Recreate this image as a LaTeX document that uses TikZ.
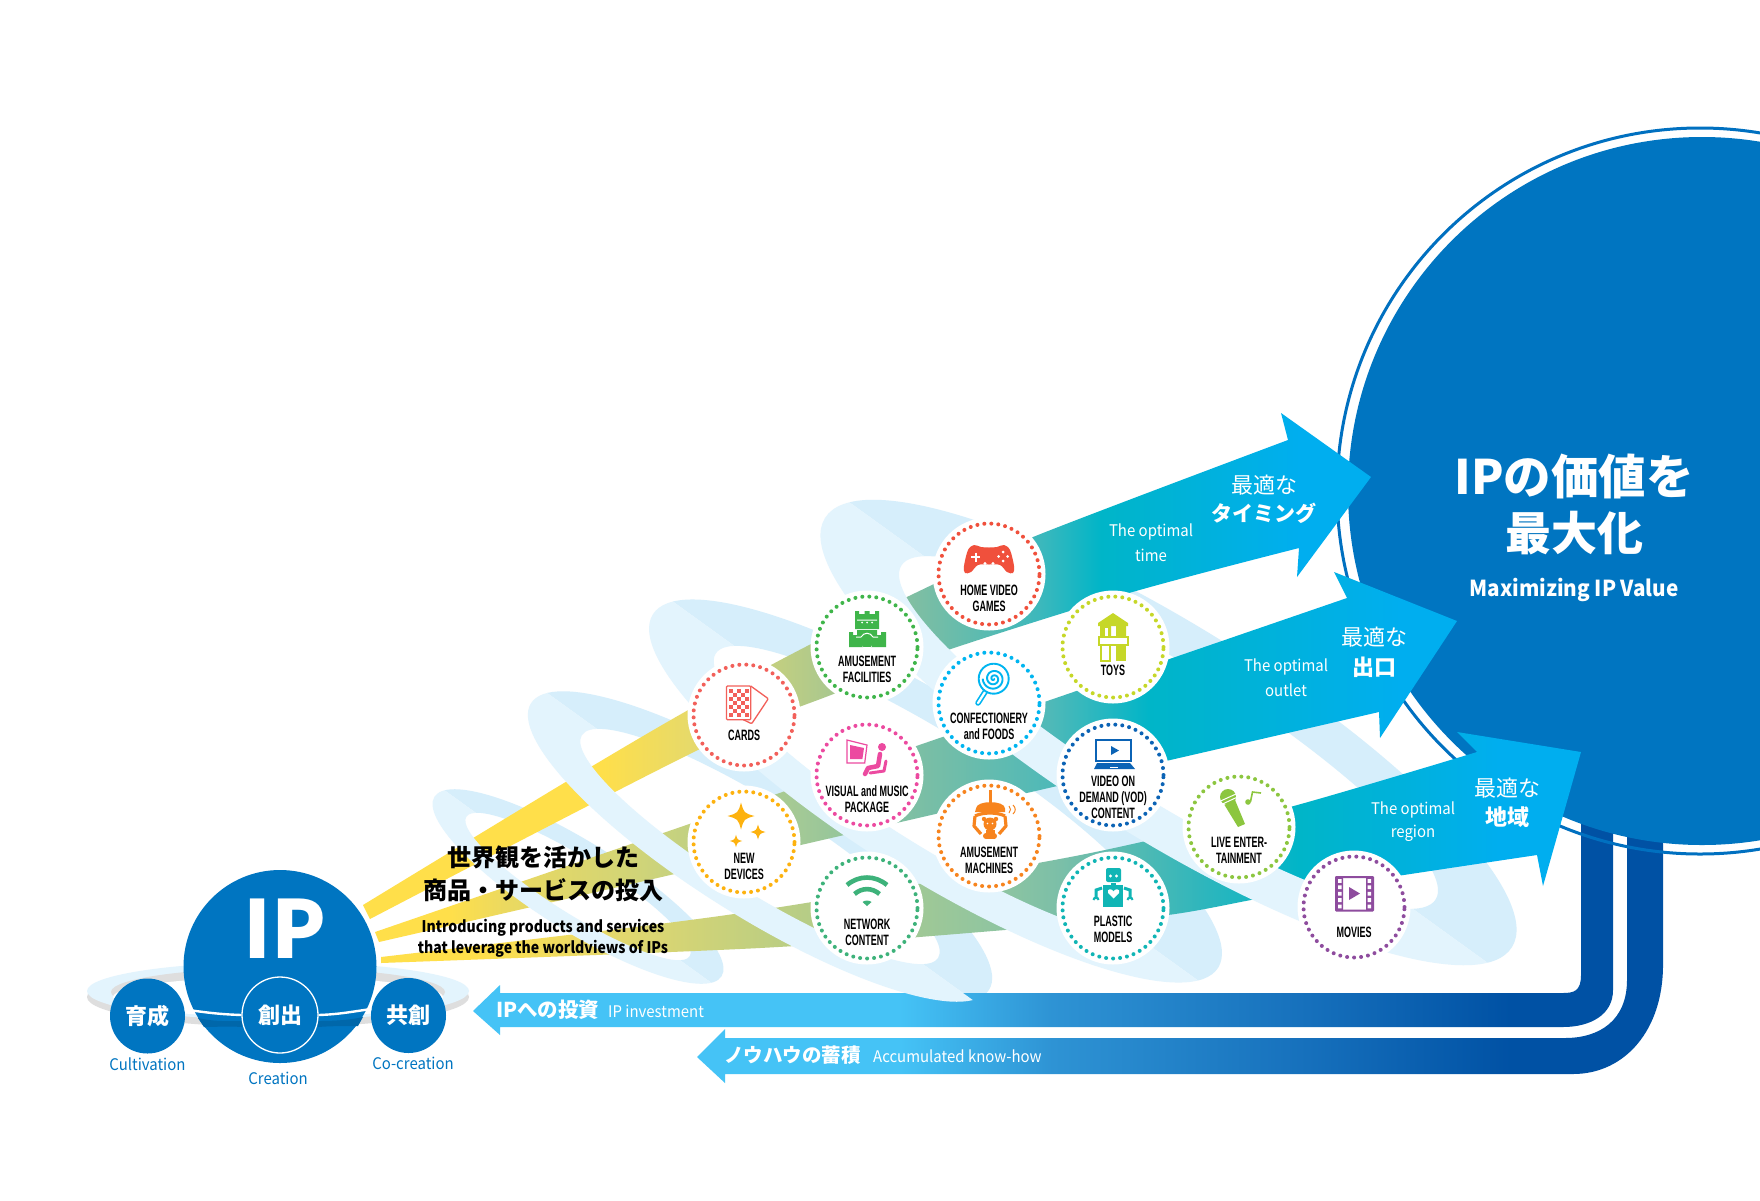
\documentclass[tikz,border=0pt]{standalone}
\usepackage{fontspec}
\setmainfont{Noto Sans CJK JP}
\newfontfamily\din[FakeStretch=0.60]{Liberation Sans}
\newfontfamily\lat[FakeStretch=0.935]{Noto Sans CJK JP}
\newfontfamily\subf[FakeStretch=0.88]{Noto Sans CJK JP}
\newfontfamily\maxf[FakeStretch=0.94]{Noto Sans CJK JP}
\usetikzlibrary{shapes.geometric}
\definecolor{ipblue}{HTML}{0075C1}
\definecolor{ringblue}{HTML}{0070C0}
\definecolor{backc}{HTML}{D6EEFB}
\definecolor{frontc}{HTML}{E3F4FD}
\definecolor{yel}{HTML}{FFDF4A}
\definecolor{skyb}{HTML}{00AEEF}
\definecolor{teal}{HTML}{00B5C8}
\definecolor{oa}{HTML}{E4D96D}
\definecolor{ob}{HTML}{AEC98C}
\definecolor{oc}{HTML}{7CBEA4}
\definecolor{od}{HTML}{3CB8BC}
\definecolor{pa}{HTML}{EBD960}
\definecolor{pb}{HTML}{D0D478}
\definecolor{pc}{HTML}{A3C996}
\definecolor{pd}{HTML}{78BEA6}
\definecolor{pe}{HTML}{4FB9B8}
\definecolor{qa}{HTML}{E8D96A}
\definecolor{qb}{HTML}{C0CF80}
\definecolor{qc}{HTML}{90C5A0}
\definecolor{qd}{HTML}{7BBFA8}
\definecolor{qe}{HTML}{30B6BC}
\definecolor{ta}{HTML}{45C3F6}
\definecolor{tb}{HTML}{2E93D4}
\definecolor{tc}{HTML}{1670BC}
\definecolor{td}{HTML}{0051A4}
\definecolor{cHVG}{HTML}{F0503C}
\definecolor{cFAC}{HTML}{3FB54A}
\definecolor{cCARD}{HTML}{F2605A}
\definecolor{cCONF}{HTML}{00B5F0}
\definecolor{cVIS}{HTML}{EC4AA0}
\definecolor{cNEW}{HTML}{FDB20F}
\definecolor{cNET}{HTML}{3DB27A}
\definecolor{cAM}{HTML}{F7841E}
\definecolor{cTOY}{HTML}{C6D728}
\definecolor{cVOD}{HTML}{0B63B5}
\definecolor{cPLA}{HTML}{10B5B5}
\definecolor{cLIVE}{HTML}{8CC63F}
\definecolor{cMOV}{HTML}{8E4C9E}
\pgfdeclarehorizontalshading{arrowone}{100bp}{color(0bp)=(yel);color(25bp)=(yel);color(36.76bp)=(yel);color(41.7bp)=(oa);color(47.7bp)=(ob);color(52.6bp)=(oc);color(58.6bp)=(od);color(61.6bp)=(teal);color(71.5bp)=(skyb);color(100bp)=(skyb)}
\pgfdeclarehorizontalshading{arrowtwo}{100bp}{color(0bp)=(yel);color(25bp)=(yel);color(28.5bp)=(yel);color(31bp)=(pa);color(37.2bp)=(pb);color(44.6bp)=(pc);color(50.6bp)=(pd);color(56.2bp)=(pe);color(60.8bp)=(teal);color(72.4bp)=(skyb);color(100bp)=(skyb)}
\pgfdeclarehorizontalshading{arrowthree}{100bp}{color(0bp)=(yel);color(25bp)=(yel);color(29.1bp)=(yel);color(34bp)=(qa);color(40.8bp)=(qb);color(50.5bp)=(qc);color(53.3bp)=(qd);color(59.1bp)=(qe);color(63.3bp)=(teal);color(71.6bp)=(skyb);color(100bp)=(skyb)}
\pgfdeclarehorizontalshading{tubeone}{100bp}{color(0bp)=(ta);color(43.7bp)=(ta);color(50.4bp)=(tb);color(61.6bp)=(tc);color(70.5bp)=(td);color(100bp)=(td)}
\pgfdeclarehorizontalshading{tubetwo}{100bp}{color(0bp)=(ta);color(35.5bp)=(ta);color(43.4bp)=(tb);color(56.6bp)=(tc);color(67.2bp)=(td);color(100bp)=(td)}
\newcommand\fsz[1]{\fontsize{#1}{#1}\selectfont}
\newcommand\ringback[3]{\begin{scope}[shift={(#1,#2)},rotate=-32,scale=#3]
\begin{scope}\clip (-450,-30) -- (450,30) -- (450,-200) -- (-450,-200) -- cycle;
\fill[backc,even odd rule] (0,0) ellipse [x radius=405,y radius=106] (0,0) ellipse [x radius=315,y radius=67];
\end{scope}\end{scope}}
\newcommand\ringfront[3]{\begin{scope}[shift={(#1,#2)},rotate=-32,scale=#3]
\begin{scope}\clip (-450,-30) -- (450,30) -- (450,200) -- (-450,200) -- cycle;
\fill[frontc,even odd rule] (0,0) ellipse [x radius=405,y radius=106] (0,0) ellipse [x radius=315,y radius=67];
\end{scope}\end{scope}}
\newcommand\disc[6]{%
\node[tagwhite] (#1) at (#2,#3) {};
\node[tagdots,draw=#4] (#1d) at (#2,#3) {};
\node[taglabel] (#1l) at (#2,#3) [yshift=-#5pt] {#6};}
\newcommand\fourstar[3]{\begin{scope}[shift={(#1,#2)},scale=#3]
\fill (0,-1) .. controls (.22,-.22) .. (1,0) .. controls (.22,.22) .. (0,1) .. controls (-.22,.22) .. (-1,0) .. controls (-.22,-.22) .. (0,-1) -- cycle;
\end{scope}}
\tikzset{
 tagwhite/.style={circle,fill=white,minimum size=113pt,inner sep=0pt},
 tagdots/.style={circle,line width=4pt,line cap=round,dash pattern=on 0pt off 7pt,minimum size=101pt,inner sep=0pt},
 taglabel/.style={align=center,font=\din\bfseries\fsz{15},text=black,inner sep=0pt,text height=10pt,text depth=0pt,execute at begin node={\baselineskip=16pt}},
 blue label/.style={text=ipblue,font=\lat\fsz{16},inner sep=0pt},
 whitelab/.style={text=white,font=\lat\fsz{16},inner sep=0pt},
 jlight/.style={text=white,font=\fsz{22},inner sep=0pt},
 jbold/.style={text=white,font=\bfseries\fsz{21},inner sep=0pt},
 jboldb/.style={text=white,font=\bfseries\fsz{22},inner sep=0pt},
 headline/.style={text=black,font=\bfseries\fsz{24},inner sep=0pt},
 subline/.style={text=black,font=\subf\bfseries\fsz{16},inner sep=0pt},
 smallc/.style={circle,fill=ipblue,minimum size=75pt,inner sep=0pt,text=white,font=\bfseries\fsz{22}},
}
\begin{document}
\begin{tikzpicture}[x=1pt,y=-1pt]
\clip (0,0) rectangle (1760,1200);
\fill[white] (0,0) rectangle (1760,1200);
% rear halves of the tilted rings
\ringback{578}{886.5}{.418}
\ringback{760}{846.5}{.667}
\ringback{935.5}{791}{.823}
\ringback{1168.5}{732.5}{1}
% return tubes
\shade[shading=tubeone] (473,1011) -- (500,985) -- (500,993) -- (1563,993) .. controls (1574,993) and (1581,991) .. (1581,975) -- (1581,800) -- (1613,800) -- (1613,990) .. controls (1613,1015) and (1590,1027) .. (1563,1027) -- (500,1027) -- (500,1035) -- cycle;
\shade[shading=tubetwo] (697,1057) -- (725,1029) -- (725,1038) -- (1565,1038) .. controls (1600,1038) and (1627,1020) .. (1627,980) -- (1627,800) -- (1663,800) -- (1663,965) .. controls (1663,1030) and (1625,1074) .. (1573,1074) -- (725,1074) -- (725,1083) -- cycle;
% big value circle
\node[circle,draw=ringblue,line width=3pt,minimum size=726pt,inner sep=0pt] (valring) at (1700,491) {};
\node[circle,fill=ipblue,minimum size=708pt,inner sep=0pt] (value) at (1702,491) {};
% flowing arrows
\shade[shading=arrowone] plot[smooth,tension=.5] coordinates {(363,905)(564,783)(690,709)(813,643)(936,583)(1033,537)(1288,440)} -- (1281,413) -- (1371,477) -- (1297,577) -- (1299,548) -- plot[smooth,tension=.5] coordinates {(1299,548)(1129,593)(942,652)(836,693)(700,749)(370,919)} -- cycle;
\shade[shading=arrowtwo] (375,932) -- (1347,598) -- (1334,572) -- (1457,621) -- (1380,738) -- (1379,712) -- (379,942) -- cycle;
\shade[shading=arrowthree] plot[smooth,tension=.5] coordinates {(381,957)(667,923)(812,902)(1038,863)(1137,843)(1290,807)(1477,752)} -- (1457,732) -- (1581,752) -- (1543,886) -- (1537,855) -- plot[smooth,tension=.5] coordinates {(1537,855)(1300,891)(1168,915)(1005,930)(760,948)(381,963)} -- cycle;
% front halves of the rings
\ringfront{578}{886.5}{.418}
\ringfront{760}{846.5}{.667}
\ringfront{935.5}{791}{.823}
\ringfront{1168.5}{732.5}{1}
% ring behind the IP circle
\fill[black!13] (278,997) ellipse [x radius=191,y radius=30];
\fill[frontc] (278,991) ellipse [x radius=191,y radius=29];
\fill[black!13] (278,992) ellipse [x radius=167,y radius=24];
\fill[white] (278,997) ellipse [x radius=165,y radius=20];
% IP circle group
\node[circle,fill=ipblue,minimum size=193pt,inner sep=0pt] (ip) at (280,966.5) {};
\fill[ipblue!88!black] (198,1018) .. controls (215,1022) and (230,1021) .. (242,1021) -- (242,1027) .. controls (228,1026) and (215,1027) .. (204,1027) -- cycle;
\fill[ipblue!88!black] (318,1021) .. controls (335,1021) and (350,1020) .. (363,1017) -- (358,1026) .. controls (345,1026) and (330,1026) .. (318,1027) -- cycle;
\node[text=white,font=\bfseries\fsz{80},inner sep=0pt] (iptext) at (285,929) {IP};
\node[circle,draw=white,line width=1.3pt,fill=ipblue,minimum size=76pt,inner sep=0pt,text=white,font=\bfseries\fsz{22}] (sou) at (280,1015) {創出};
\node[smallc] (iku) at (147.5,1016) {育成};
\node[smallc] (kyo) at (408.5,1015.5) {共創};
\draw[white,line width=2.4pt] (iku.10) to[out=-8,in=178] (sou.west);
\draw[white,line width=2.4pt] (kyo.170) to[out=188,in=2] (sou.east);
\node[blue label] (lcul) at (147.5,1064) {Cultivation};
\node[blue label] (lcre) at (278,1078) {Creation};
\node[blue label] (lco) at (413,1063) {Co-creation};
% headline
\node[headline] (h1) at (543,857) {世界観を活かした};
\node[headline] (h2) at (543,890) {商品・サービスの投入};
\node[subline] (h3) at (543,928) {Introducing products and services};
\node[subline] (h4) at (543,949) {that leverage the worldviews of IPs};
% tube labels
\node[text=white,font=\bfseries\fsz{20.5},inner sep=0pt,anchor=west] (t1j) at (496,1010) {IPへの投資};
\node[whitelab,anchor=west] (t1e) at (608,1011) {IP investment};
\node[text=white,font=\bfseries\fsz{19.5},inner sep=0pt,anchor=west] (t2j) at (724,1055) {ノウハウの蓄積};
\node[whitelab,anchor=west] (t2e) at (873,1056) {Accumulated know-how};
% arrow labels
\node[jlight] (a1a) at (1264,485) {最適な};
\node[jbold] (a1b) at (1264,513) {タイミング};
\node[whitelab] (a1c) at (1151,532) {The optimal};
\node[whitelab] (a1d) at (1151,555.5) {time};
\node[jlight] (a2a) at (1374,637.5) {最適な};
\node[jboldb] (a2b) at (1374,667) {出口};
\node[whitelab] (a2c) at (1286,667) {The optimal};
\node[whitelab] (a2d) at (1286,690.5) {outlet};
\node[jlight] (a3a) at (1507,788) {最適な};
\node[jboldb] (a3b) at (1507,817) {地域};
\node[whitelab] (a3c) at (1413,810) {The optimal};
\node[whitelab] (a3d) at (1413,833.5) {region};
% value text
\node[text=white,font=\bfseries\fsz{47.5},inner sep=0pt] (v1) at (1574,476) {IPの価値を};
\node[text=white,font=\bfseries\fsz{46},inner sep=0pt] (v2) at (1574,533) {最大化};
\node[text=white,font=\maxf\bfseries\fsz{22},inner sep=0pt] (v3) at (1574,590) {Maximizing IP Value};
% discs
\disc{cards}{744}{715}{cCARD}{20}{CARDS}
\disc{fac}{867}{647}{cFAC}{30}{AMUSEMENT\\FACILITIES}
\disc{hvg}{989}{574}{cHVG}{32}{HOME VIDEO\\GAMES}
\disc{newd}{744}{842}{cNEW}{32}{NEW\\DEVICES}
\disc{vis}{867}{775}{cVIS}{32}{VISUAL and MUSIC\\PACKAGE}
\disc{conf}{989}{703}{cCONF}{31}{CONFECTIONERY\\and FOODS}
\disc{toy}{1113}{647}{cTOY}{23}{TOYS}
\disc{net}{867}{908}{cNET}{32}{NETWORK\\CONTENT}
\disc{amm}{989}{836}{cAM}{32}{AMUSEMENT\\MACHINES}
\disc{vod}{1113}{775}{cVOD}{38}{VIDEO ON\\DEMAND (VOD)\\CONTENT}
\disc{pla}{1113}{908}{cPLA}{29}{PLASTIC\\MODELS}
\disc{live}{1239}{827}{cLIVE}{31}{LIVE ENTER-\\TAINMENT}
\disc{mov}{1354}{907}{cMOV}{25}{MOVIES}
% icons: cards
\begin{scope}[shift={(744,715)},cCARD]
\draw[line width=1.3pt,rounded corners=1pt,fill=white] (6.7,-29) -- (24.3,-16.3) -- (7.7,8.7) -- (-0.7,4.7);
\draw[line width=1.3pt,rounded corners=1pt,fill=white] (-17.5,-29) rectangle (6.7,4.7);
\foreach \i in {0,...,4}{\foreach \j in {0,...,6}{\pgfmathparse{int(mod(\i+\j,2))}\ifnum\pgfmathresult=0 \fill (-15+\i*3.9,-26.5+\j*4) rectangle ++(3.9,4);\fi}}
\end{scope}
% icons: facilities
\begin{scope}[shift={(867,647)},cFAC]
\fill (-12,-18) -- (-12,-36) -- (-8,-36) -- (-8,-33) -- (-2.5,-33) -- (-2.5,-36) -- (2.5,-36) -- (2.5,-33) -- (8,-33) -- (8,-36) -- (12,-36) -- (12,-18) -- cycle;
\fill (-18,0) -- (-18,-15) -- (-14,-15) -- (-14,-12) -- (-10,-12) -- (-10,-17) -- (10,-17) -- (10,-12) -- (14,-12) -- (14,-15) -- (19,-15) -- (19,0) -- cycle;
\draw[white,line width=1pt] (-10,-27) -- (10,-27) (-11,-10) -- (-6,-10) .. controls (-3,-15) and (3,-15) .. (6,-10) -- (11,-10);
\fill[white] (-5,-24.5) circle (1) (0,-24.5) circle (1) (5,-24.5) circle (1);
\fill[white] (-4.5,0) -- (-4.5,-1.5) arc (180:0:4.5) -- (4.5,0) -- cycle;
\end{scope}
% icons: game pad
\begin{scope}[shift={(989,574)},cHVG]
\fill plot[smooth cycle,tension=.55] coordinates {(-15,-29)(-8,-27)(0,-26.5)(8,-27)(15,-29)(21,-24)(25,-8)(24,-1)(18,-2)(11,-9)(0,-9.5)(-11,-9)(-18,-2)(-24,-1)(-25,-8)(-21,-24)};
\draw[white,line width=2pt] (-18,-17) -- (-9,-17) (-13.5,-21.5) -- (-13.5,-12.5);
\fill[white] (14,-22) circle (1.5) (14,-13) circle (1.5) (9.5,-17.5) circle (1.5) (18.5,-17.5) circle (1.5) (-4,-10.5) circle (1.6) (4,-10.5) circle (1.6);
\end{scope}
% icons: new devices
\begin{scope}[cNEW]
\fourstar{741}{816}{13.5}
\fourstar{758}{832}{7.5}
\fourstar{736}{841}{6.2}
\end{scope}
% icons: visual
\begin{scope}[shift={(867,775)},cVIS]
\draw[line width=1.2pt] (-20,-35) -- (0,-30) -- (-2.3,-12) -- (-20,-12) -- cycle;
\fill (-17,-30) -- (-3,-27) -- (-4.6,-16) -- (-17,-16) -- cycle;
\fill (15,-28) circle (4);
\draw[line width=4.5pt,line cap=round,line join=round] (13,-21) -- (11,-9) -- (1,-7) -- (-2,-1);
\draw[line width=3pt,line cap=round,line join=round] (19,-14) -- (17,-4) -- (3,-2);
\end{scope}
% icons: lollipop
\begin{scope}[shift={(989,703)},cCONF]
\draw[line width=5.5pt,line cap=round] (-3.3,-12) -- (-11,0);
\draw[white,line width=2.2pt,line cap=round] (-3.3,-12) -- (-11,0);
\fill[white] (4.7,-24.3) circle (15.5);
\draw[line width=1.9pt] (4.7,-24.3) circle (15);
\draw[line width=1.9pt,shift={(4.7,-24.3)}] plot[domain=0:900,samples=90,variable=\t] ({\t/900*11*cos(\t)},{\t/900*11*sin(\t)});
\end{scope}
% icons: toys
\begin{scope}[shift={(1113,647)},cTOY]
\fill (0,-34) -- (15,-24) -- (15,-21) -- (-15,-21) -- (-15,-24) -- cycle;
\fill (-13,-21) rectangle (-2,-10) (3,-21) rectangle (13,-10);
\fill[white] (-8,-19) rectangle (-5,-10);
\draw[line width=1.5pt,fill=white] (-14,-10) rectangle (15,-2);
\draw[line width=1.5pt] (-12,-2) rectangle (-3,14);
\fill (3,-2) rectangle (13,14);
\end{scope}
% icons: wifi
\begin{scope}[shift={(867,908)},cNET]
\draw[line width=4.6pt] (-20,-23) .. controls (-8,-33) and (8,-33) .. (20,-23);
\draw[line width=4.6pt] (-12.5,-14) .. controls (-5,-20.5) and (5,-20.5) .. (12.5,-14);
\fill (-4.5,-6) .. controls (-2,-8) and (2,-8) .. (4.5,-6) -- (0,-2) -- cycle;
\end{scope}
% icons: claw machine
\begin{scope}[shift={(989,836)},cAM]
\fill (-0.5,-46) rectangle (2.5,-33);
\fill (-13,-27.5) .. controls (-13,-36) and (16,-36) .. (16,-27.5) -- (16,-24) -- (-14,-24) -- cycle;
\draw[line width=3.2pt,line join=round] (-14,-20) -- (-15,-10) -- (-8,-2) (16,-20) -- (17,-10) -- (10,-2);
\draw[line width=3.2pt] (-14,-20) .. controls (-6,-24) and (8,-24) .. (16,-20);
\fill (1,-12) circle (6.5) (-5,-17) circle (2.2) (7,-17) circle (2.2);
\fill (-3.5,-6) rectangle (5.5,3);
\fill (-3,0) circle (3) (5,0) circle (3);
\fill[white] (-1.5,-12.5) circle (.8) (3.5,-12.5) circle (.8);
\draw[line width=1pt] (20,-30) .. controls (22,-28) and (22,-25) .. (20,-23) (24,-31) .. controls (27,-28) and (27,-25) .. (24,-22);
\end{scope}
% icons: laptop
\begin{scope}[shift={(1113,775)},cVOD]
\draw[line width=2pt] (-17,-35) rectangle (18,-14);
\fill (-2,-29) -- (6,-24.5) -- (-2,-20) -- cycle;
\fill (-16,-12) -- (17,-12) -- (22,-6) -- (-19,-6) -- cycle;
\fill[white] (-3,-8.5) rectangle (5,-7.5);
\end{scope}
% icons: robot
\begin{scope}[shift={(1113,908)},cPLA]
\fill[rounded corners=2pt] (-7,-40) rectangle (8,-26);
\fill (-2,-25.5) rectangle (3,-23);
\fill[white] (-2.5,-32) circle (1.7) (3.5,-32) circle (1.7);
\fill (-10,-23) rectangle (10,-1);
\draw[line width=3pt] (-11,-20) -- (-17,-18) -- (-17,-9) (11,-20) -- (17,-18) -- (17,-9);
\draw[line width=2pt] (-19.5,-8) arc (180:360:2.5) (14.5,-8) arc (180:360:2.5);
\fill[white] (0.5,-9.5) -- (-5,-15) .. controls (-6.5,-19.5) and (-1,-20) .. (0.5,-16.5) .. controls (2,-20) and (7.5,-19.5) .. (6,-15) -- cycle;
\end{scope}
% icons: microphone
\begin{scope}[shift={(1239,827)},cLIVE]
\fill (-11,-30) circle (8);
\fill (-14.5,-22) -- (-4,-27) -- (6,-3) -- (-1,0) -- cycle;
\draw[white,line width=1pt] (-18.5,-26) -- (-3,-33) (-16.5,-23) -- (-1.5,-30);
\fill (9,-25) circle (2.8);
\draw[line width=1.6pt] (11.4,-25) -- (13.5,-35) -- (22,-34);
\end{scope}
% icons: film
\begin{scope}[shift={(1354,907)},cMOV]
\draw[line width=2pt,rounded corners=.6pt] (-18,-30) rectangle (19,3.5);
\fill (-18,-30) rectangle (-11,3.5) (12,-30) rectangle (19,3.5);
\foreach \j in {0,...,4}{\fill[white] (-16,-28+\j*6.4) rectangle ++(3.6,3.8) (13.6,-28+\j*6.4) rectangle ++(3.6,3.8);}
\fill (-5,-20) -- (6,-13.5) -- (-5,-7) -- cycle;
\end{scope}
\end{tikzpicture}
\end{document}
